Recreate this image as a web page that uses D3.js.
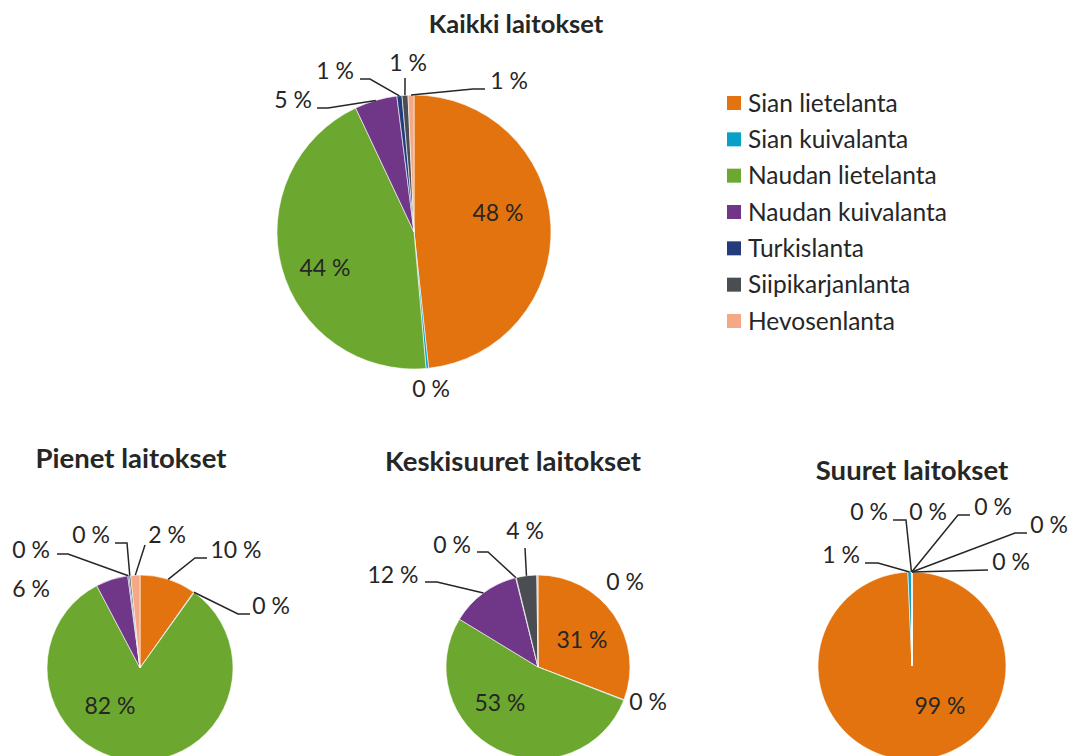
<!DOCTYPE html>
<html>
<head>
<meta charset="utf-8">
<script src="https://cdn.jsdelivr.net/npm/d3@7"></script>
<style>
  body { margin: 0; background: #fff; }
  svg text { font-family: Lato, 'Open Sans', sans-serif; fill: #262626; }
</style>
</head>
<body>
<svg width="1072" height="756"></svg>
<script>
// DATA
const categories = ['Sian lietelanta', 'Sian kuivalanta', 'Naudan lietelanta', 'Naudan kuivalanta', 'Turkislanta', 'Siipikarjanlanta', 'Hevosenlanta']
const pieTitles = ['Kaikki laitokset', 'Pienet laitokset', 'Keskisuuret laitokset', 'Suuret laitokset']
const kaikkiValues = [48.3, 0.3, 44.4, 5.0, 0.6, 0.7, 0.7]
const pienetValues = [9.8, 0.1, 82.4, 5.6, 0.2, 0.3, 1.6]
const keskiValues = [30.8, 0.1, 52.8, 12.4, 0.1, 3.6, 0.2]
const suuretValues = [99.3, 0.6, 0.02, 0.02, 0.02, 0.02, 0.02]

const colors = ['#e3730f', '#08a0c8', '#6ca830', '#703687', '#233d7c', '#4a4e53', '#f4a886']

const svg = d3.select('svg')

// layout of each pie: center, radius, title and label spots (label text + leader line elbows)
const layouts = [
  { values: kaikkiValues, cx: 414, cy: 232, r: 137, title: [516, 24], titleSize: 25.5,
    labels: [
      { x: 498, y: 213 }, { x: 431, y: 389 }, { x: 325, y: 268 },
      { x: 293, y: 100, path: [[317, 108], [328, 108]] },
      { x: 335, y: 71, path: [[360, 79], [370, 79]] },
      { x: 408, y: 63, path: [[405, 78]] },
      { x: 509, y: 81, path: [[485, 89], [473, 89]] }
    ] },
  { values: pienetValues, cx: 140, cy: 668, r: 93, title: [131, 458], titleSize: 27.5,
    labels: [
      { x: 236, y: 550, path: [[207, 558], [195, 558]] },
      { x: 271, y: 606, path: [[250, 614], [238, 614]] },
      { x: 110, y: 706 },
      { x: 31, y: 589 },
      { x: 31, y: 550, path: [[57, 554], [68, 554]] },
      { x: 91, y: 535, path: [[115, 543], [127, 543]] },
      { x: 167, y: 535, path: [[145, 545]] }
    ] },
  { values: keskiValues, cx: 538, cy: 667, r: 92, title: [513, 461], titleSize: 27.5,
    labels: [
      { x: 582, y: 640 }, { x: 648, y: 702 }, { x: 500, y: 703 },
      { x: 393, y: 575, path: [[425, 582], [437, 582]] },
      { x: 452, y: 545, path: [[477, 552], [488, 552]] },
      { x: 525, y: 531, path: [[525, 548]] },
      { x: 625, y: 582 }
    ] },
  { values: suuretValues, cx: 912, cy: 666, r: 94, title: [912, 470], titleSize: 27.5,
    labels: [
      { x: 940, y: 706 },
      { x: 841, y: 555, path: [[865, 563], [878, 563]] },
      { x: 869, y: 512, path: [[893, 520], [906, 520]] },
      { x: 928, y: 512 },
      { x: 993, y: 507, path: [[970, 515], [958, 515]] },
      { x: 1049, y: 525, path: [[1027, 533], [1015, 533]] },
      { x: 1011, y: 562, path: [[988, 570]] }
    ] }
]

const colorScale = d3.scaleOrdinal().domain(categories).range(colors)
const pie = d3.pie().value(d => d.value).sort(null)
const line = d3.line()

layouts.forEach((lay, i) => {
  const data = categories.map((c, k) => ({ cat: c, value: lay.values[k] }))
  const total = d3.sum(lay.values)
  const arcs = pie(data)
  const arc = d3.arc().innerRadius(0).outerRadius(lay.r)
  const edge = d3.arc().innerRadius(lay.r).outerRadius(lay.r)

  const g = svg.append('g').attr('transform', `translate(${lay.cx},${lay.cy})`)
  g.selectAll('path')
    .data(arcs)
    .enter().append('path')
      .attr('d', arc)
      .attr('fill', d => colorScale(d.data.cat))
      .attr('stroke', '#fff')
      .attr('stroke-width', 0.6)

  // leader lines
  arcs.forEach((a, k) => {
    const lb = lay.labels[k]
    if (!lb.path) return
    const [ax, ay] = edge.centroid(a)
    const pts = lb.path.concat([[ax + lay.cx, ay + lay.cy]])
    svg.append('path')
      .attr('d', line(pts))
      .attr('fill', 'none')
      .attr('stroke', '#262626')
      .attr('stroke-width', 1.5)
  })

  svg.selectAll(null)
    .data(arcs)
    .enter().append('text')
      .attr('x', (d, k) => lay.labels[k].x)
      .attr('y', (d, k) => lay.labels[k].y)
      .attr('dy', '0.35em')
      .attr('text-anchor', 'middle')
      .style('font-size', '23px')
      .text(d => Math.round(d.data.value / total * 100) + ' %')

  svg.append('text')
    .attr('x', lay.title[0])
    .attr('y', lay.title[1])
    .attr('dy', '0.35em')
    .attr('text-anchor', 'middle')
    .style('font-size', lay.titleSize + 'px')
    .style('font-weight', 'bold')
    .text(pieTitles[i])
})

// LEGEND
const legendY = d3.scalePoint().domain(categories).range([103, 321])
const legend = svg.append('g').attr('transform', 'translate(727,0)')
const item = legend.selectAll('g')
  .data(categories)
  .enter().append('g')
    .attr('transform', d => `translate(0,${legendY(d)})`)
item.append('rect')
  .attr('y', -7)
  .attr('width', 14)
  .attr('height', 14)
  .attr('fill', d => colorScale(d))
item.append('text')
  .attr('x', 21)
  .attr('dy', '0.35em')
  .style('font-size', '24.5px')
  .text(d => d)
</script>
</body>
</html>
